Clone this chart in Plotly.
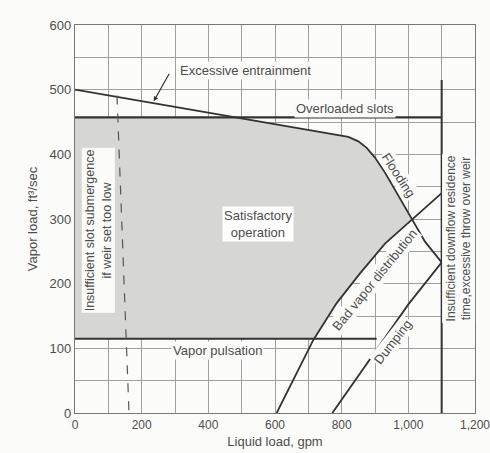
import plotly.graph_objects as go

# ---- data ----
entrain_flood_x = [0, 489, 780, 820, 850, 875, 900, 930, 960, 1010, 1050, 1100]
entrain_flood_y = [500, 457, 431, 427, 420, 410, 395, 372, 345, 301, 265, 233]

bad_vapor_x = [605, 660, 715, 785, 855, 930, 1010, 1100]
bad_vapor_y = [0, 57, 113, 170, 216, 262, 298, 340]

dumping_x = [772, 840, 900, 1000, 1100]
dumping_y = [0, 50, 95, 168, 233]

overloaded_x = [0, 1100]
overloaded_y = [457, 457]

pulsation_x = [0, 905]
pulsation_y = [115, 115]

downflow_x = [1100, 1100]
downflow_y = [0, 515]

weir_x = [126, 162]
weir_y = [491, 0]

# satisfactory operation region boundary
region_x = [0, 0, 489, 600, 780, 820, 850, 875, 900, 930, 960, 1010, 930, 855, 785, 717, 0]
region_y = [115, 457, 457, 447, 431, 427, 420, 410, 395, 372, 345, 300, 262, 216, 170, 115, 115]

x_ticks = [0, 200, 400, 600, 800, 1000, 1200]
x_tick_labels = ["0", "200", "400", "600", "800", "1,000", "1,200"]
y_ticks = [0, 100, 200, 300, 400, 500, 600]

FONT = "Liberation Sans, Arial, sans-serif"
TXT = "#4d4d4d"
LINE = "#333333"
GRID = "#a0a0a0"
BG = "#fbfbf9"

fig = go.Figure()

fig.add_trace(go.Scatter(x=region_x, y=region_y, fill="toself", fillcolor="#d6d6d4",
                         line=dict(width=0), mode="lines", hoverinfo="skip"))

for xs, ys, w in [(overloaded_x, overloaded_y, 2.2), (pulsation_x, pulsation_y, 2.0),
                  (downflow_x, downflow_y, 2.0), (entrain_flood_x, entrain_flood_y, 1.8),
                  (bad_vapor_x, bad_vapor_y, 1.8), (dumping_x, dumping_y, 1.8)]:
    fig.add_trace(go.Scatter(x=xs, y=ys, mode="lines", line=dict(color=LINE, width=w),
                             hoverinfo="skip"))

fig.add_trace(go.Scatter(x=weir_x, y=weir_y, mode="lines",
                         line=dict(color="#555", width=1.2, dash="dash"), hoverinfo="skip"))

def label(text, x, y, angle=0, size=13, bg=BG, align="center"):
    fig.add_annotation(x=x, y=y, text=text, showarrow=False, textangle=angle,
                       font=dict(family=FONT, size=size, color=TXT), bgcolor=bg,
                       borderpad=1, align=align)

label("Excessive entrainment", 510, 530)
fig.add_annotation(x=236, y=482, ax=285, ay=527, axref="x", ayref="y", text="",
                   showarrow=True, arrowhead=2, arrowsize=0.8, arrowwidth=1.2,
                   arrowcolor=LINE)
label("Overloaded slots", 810, 471)
label("Flooding", 972, 368, angle=57)
label("Satisfactory<br>operation", 550, 292, bg="#ffffff")
label("Vapor pulsation", 426, 97)
label("Bad vapor distribution", 900, 206, angle=-51)
label("Dumping", 955, 110, angle=-52)
label("Insufficient downflow residence<br>time,excessive throw over weir", 1152, 270, angle=-90,
      size=12)
label("Insufficient slot submergence<br>if weir set too low", 70, 283, angle=-90, size=12.5)

fig.update_layout(
    width=490, height=453,
    margin=dict(l=75, r=15, t=25, b=40),
    paper_bgcolor=BG, plot_bgcolor=BG,
    showlegend=False,
    font=dict(family=FONT, color=TXT, size=12),
)
fig.update_xaxes(range=[0, 1200], tickvals=x_ticks, ticktext=x_tick_labels,
                 showgrid=True, gridcolor=GRID, gridwidth=1,
                 minor=dict(dtick=100, showgrid=True, gridcolor=GRID, gridwidth=1),
                 showline=True, linecolor="#777", linewidth=1.2, mirror=True,
                 zeroline=False, ticks="", tickfont=dict(size=12, color=TXT),
                 ticklabeloverflow="allow", automargin=False,
                 title=dict(text="Liquid load, gpm", font=dict(size=13, color=TXT), standoff=6))
fig.update_yaxes(range=[0, 600], tickvals=y_ticks,
                 showgrid=True, gridcolor=GRID, gridwidth=1,
                 minor=dict(dtick=50, showgrid=True, gridcolor=GRID, gridwidth=1),
                 showline=True, linecolor="#777", linewidth=1.2, mirror=True,
                 zeroline=False, ticks="", tickfont=dict(size=13, color=TXT),
                 automargin=False,
                 title=dict(text="Vapor load, ft³/sec", font=dict(size=13, color=TXT), standoff=9))

fig.write_html("out.html", config={"displayModeBar": False},
               post_script="document.body.style.margin='0';document.body.style.overflow='hidden';")
